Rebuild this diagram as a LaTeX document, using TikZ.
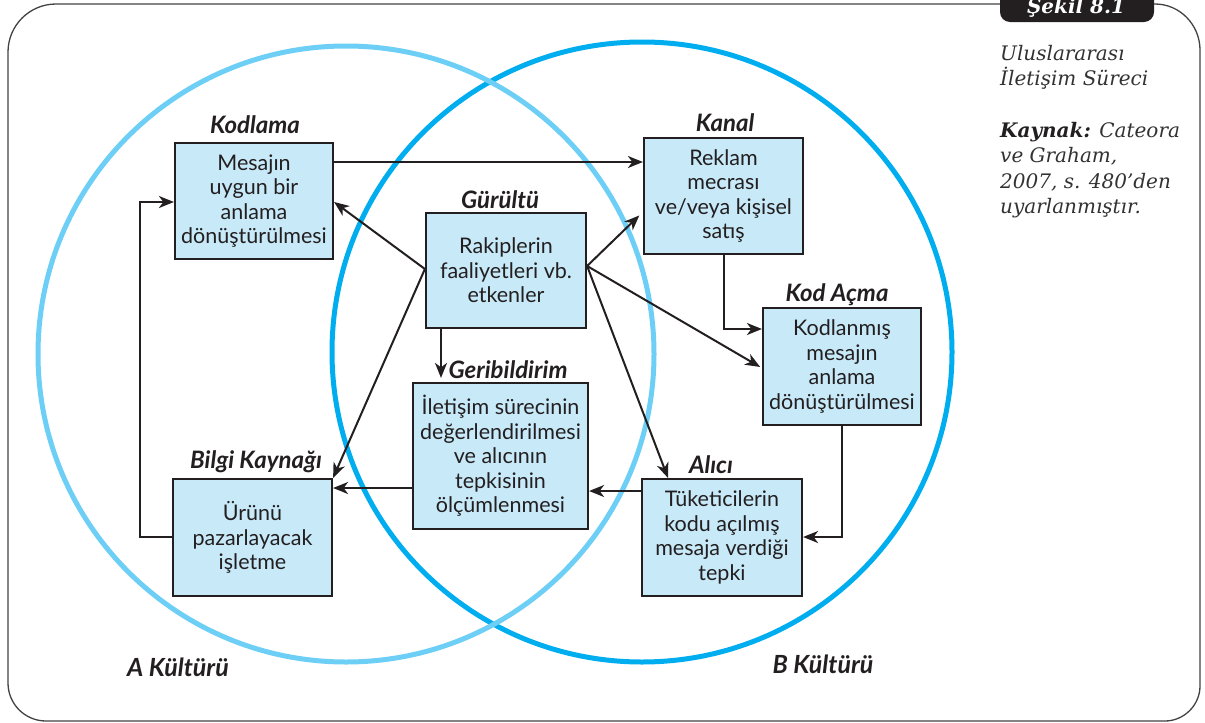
\documentclass[tikz,border=0pt]{standalone}
\usepackage{fontspec}
\usetikzlibrary{arrows.meta}
\newfontfamily\boxfont{Lato}
\newfontfamily\capfont{DejaVu Serif}
\definecolor{ink}{RGB}{35,31,32}
\definecolor{boxfill}{RGB}{199,233,248}
\definecolor{cultA}{RGB}{109,207,246}
\definecolor{cultB}{RGB}{0,174,239}
\definecolor{captext}{RGB}{50,50,50}
\begin{document}
\begin{tikzpicture}[x=1pt,y=-1pt,
  procbox/.style={draw=ink, line width=2.2pt, fill=boxfill, inner sep=0pt,
    align=center, text=ink, font=\boxfont\fontsize{21.5}{24.5}\selectfont},
  steplabel/.style={inner sep=0pt, text=ink, font=\boxfont\bfseries\itshape\fontsize{24}{26}\selectfont},
  culture/.style={inner sep=0pt, text=ink, font=\boxfont\bfseries\itshape\fontsize{25}{28}\selectfont},
  caption/.style={inner sep=0pt, anchor=base west, text=captext, font=\capfont\itshape\fontsize{20}{25}\selectfont},
  flow/.style={draw=ink, line width=2pt, -{Stealth[length=15pt,width=12pt,inset=4.5pt]}},
  ring/.style={line width=5pt}]
\useasboundingbox (0,0) rectangle (1205,723);

% outer frame
\draw[line width=1.3pt, draw=ink!85]
  (1155,4) -- (56,4) .. controls (29.5,4) and (8,25.5) .. (8,52)
  -- (8,683) .. controls (8,704) and (25,721) .. (46,721)
  -- (1165,721) .. controls (1184,721) and (1200,705) .. (1200,686)
  -- (1200,50) .. controls (1200,25) and (1180,4) .. (1155,4);

% figure tab
\fill[ink, rounded corners=10pt] (1000,-14) rectangle (1154,22);
\node[inner sep=0pt, anchor=base, text=white,
  font=\capfont\bfseries\itshape\fontsize{20}{20}\selectfont] (tab) at (1076,13) {Şekil 8.1};

% side caption
\node[caption] (c1) at (1000,60) {Uluslararası};
\node[caption] (c2) at (1000,85.5) {İletişim Süreci};
\node[caption] (c3) at (1000,137) {\textbf{\color{ink}Kaynak:} Cateora};
\node[caption] (c4) at (1000,162.5) {ve Graham,};
\node[caption] (c5) at (1000,188) {2007, s. 480’den};
\node[caption] (c6) at (1000,213.5) {uyarlanmıştır.};

% the two cultures
\draw[ring, cultB] (642,352) circle[radius=310];
\draw[ring, cultA] (346,354) circle[radius=308];
\node[culture] (cA) at (178,667) {A Kültürü};
\node[culture] (cB) at (823,664) {B Kültürü};

% process boxes
\node[procbox, minimum width=158pt, minimum height=116pt] (kod) at (254,201)
  {Mesajın\\uygun bir\\anlama\\dönüştürülmesi};
\node[procbox, minimum width=160pt, minimum height=115pt] (gur) at (506,270.5)
  {Rakiplerin\\faaliyetleri vb.\\etkenler};
\node[procbox, minimum width=159pt, minimum height=116pt] (kan) at (723.5,196)
  {Reklam\\mecrası\\ve/veya kişisel\\satış};
\node[procbox, minimum width=158pt, minimum height=117pt] (ac) at (842,366.5)
  {Kodlanmış\\mesajın\\anlama\\dönüştürülmesi};
\node[procbox, minimum width=175pt, minimum height=146pt] (ger) at (500.5,456)
  {İletişim sürecinin\\değerlendirilmesi\\ve alıcının\\tepkisinin\\ölçümlenmesi};
\node[procbox, minimum width=159pt, minimum height=117pt] (bil) at (252.5,537.5)
  {Ürünü\\pazarlayacak\\işletme};
\node[procbox, minimum width=160pt, minimum height=117pt] (ali) at (722,537.5)
  {Tüketicilerin\\kodu açılmış\\mesaja verdiği\\tepki};

% box titles
\node[steplabel] (lkod) at (255,125) {Kodlama};
\node[steplabel] (lgur) at (500,200) {Gürültü};
\node[steplabel] (lkan) at (725,123) {Kanal};
\node[steplabel] (lac) at (837,295) {Kod Açma};
\node[steplabel] (lger) at (508,370) {Geribildirim};
\node[steplabel] (lbil) at (256,462) {Bilgi Kaynağı};
\node[steplabel] (lali) at (711,465) {Alıcı};

% connectors
\draw[flow] (kod.east |- 0,162) -- (kan.west |- 0,162);
\draw[flow] (gur.west |- 0,269) -- (kod.east |- 0,202);
\draw[flow] (gur.west |- 0,269) -- (bil.north east);
\draw[flow, shorten >=5pt] (gur.east |- 0,266) -- (kan.west |- 0,212);
\draw[flow, shorten >=2pt] (gur.east |- 0,266) -- (ac.west |- 0,368);
\draw[flow] (gur.east |- 0,266) -- (ali.north -| 668,0);
\draw[flow, shorten >=4pt] (gur.south -| 441,0) -- (ger.north -| 441,0);
\draw[flow] (kan.south -| 724,0) |- (ac.west |- 0,329);
\draw[flow] (ac.south) |- (ali.east |- 0,537);
\draw[flow] (ali.west |- 0,491) -- (ger.east |- 0,491);
\draw[flow] (ger.west |- 0,488) -- (bil.east |- 0,488);
\draw[flow] (bil.west |- 0,537) -- ++(-32,0) |- (kod.west |- 0,202);
\end{tikzpicture}
\end{document}
